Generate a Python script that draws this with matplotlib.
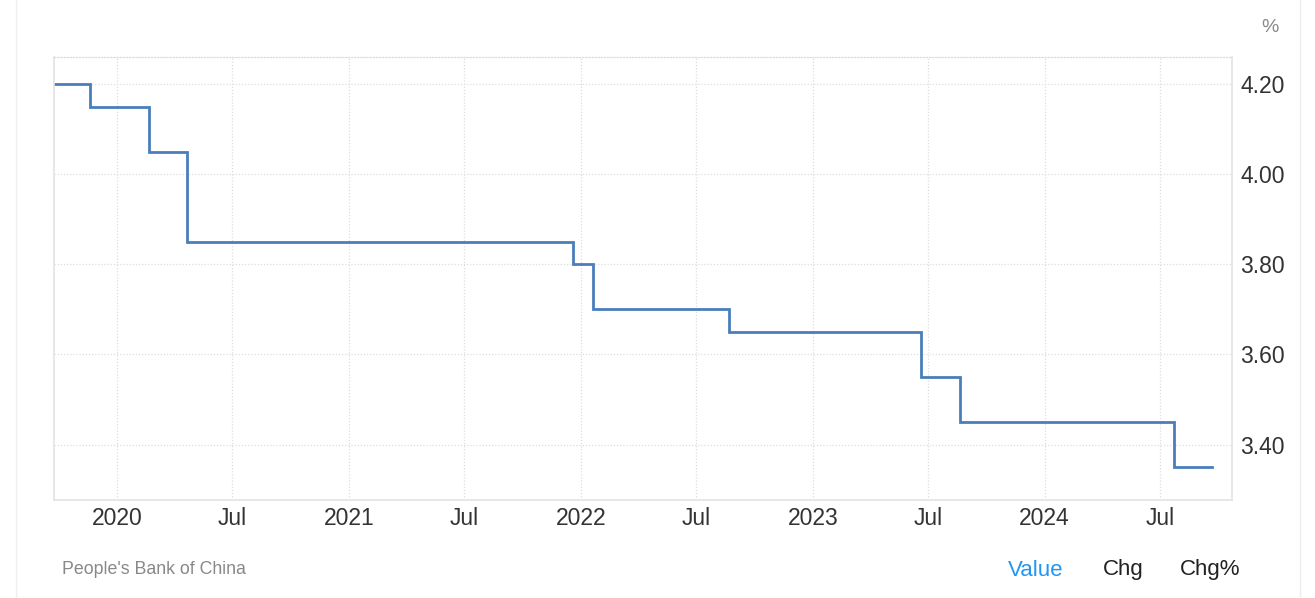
import matplotlib.pyplot as plt
import matplotlib.dates as mdates
import pandas as pd
from matplotlib.lines import Line2D

# China 1-year loan prime rate, People's Bank of China
dates = ['2019-09-20', '2019-11-20', '2020-02-20', '2020-04-20', '2021-12-20',
         '2022-01-20', '2022-08-22', '2023-06-20', '2023-08-21', '2024-07-22',
         '2024-09-20']
values = [4.20, 4.15, 4.05, 3.85, 3.80, 3.70, 3.65, 3.55, 3.45, 3.35, 3.35]
y_ticks = [3.40, 3.60, 3.80, 4.00, 4.20]

dates = pd.to_datetime(dates)

plt.rcParams['font.family'] = ['Liberation Sans', 'DejaVu Sans']

fig = plt.figure(figsize=(13.15, 5.98), dpi=100)
ax = fig.add_axes([54 / 1315, 1 - 500 / 598, (1232 - 54) / 1315, (500 - 57) / 598])

ax.step(dates, values, where='post', color='#4a7ebb', lw=2.0, solid_joinstyle='miter')

ax.set_xlim(pd.Timestamp('2019-09-24'), pd.Timestamp('2024-10-22'))
ax.set_ylim(3.277, 4.26)

ax.xaxis.set_major_locator(mdates.MonthLocator(bymonth=[1, 7]))
ax.xaxis.set_major_formatter(
    plt.FuncFormatter(lambda x, _: mdates.num2date(x).strftime('%Y') if mdates.num2date(x).month == 1 else 'Jul'))
ax.set_yticks(y_ticks)
ax.set_yticklabels([f'{v:.2f}' for v in y_ticks])
ax.yaxis.tick_right()

ax.tick_params(axis='both', length=0, labelsize=16.5, colors='#333333')
ax.tick_params(axis='x', pad=5)
ax.tick_params(axis='y', pad=6)

ax.grid(True, color='#dddddd', linestyle=(0, (1, 1.5)), lw=0.9)
ax.set_axisbelow(True)

for side in ['left', 'bottom', 'right']:
    ax.spines[side].set_color('#e3e3e3')
    ax.spines[side].set_linewidth(1.2)
ax.spines['top'].set_color('#dddddd')
ax.spines['top'].set_linestyle((0, (1, 1.5)))
ax.spines['top'].set_linewidth(0.9)

# card borders
fig.add_artist(Line2D([16 / 1315, 16 / 1315], [0, 1], color='#eeeeee', lw=1))
fig.add_artist(Line2D([1300 / 1315, 1300 / 1315], [0, 1], color='#eeeeee', lw=1))

fig.text(1270 / 1315, 1 - 27 / 598, '%', fontsize=14, color='#888888', ha='center', va='center')
fig.text(62 / 1315, 1 - 570 / 598, "People's Bank of China", fontsize=12.8, color='#888888',
         ha='left', va='center')
fig.text(1036 / 1315, 1 - 570 / 598, 'Value', fontsize=16, color='#2196f3', ha='center', va='center')
fig.text(1123 / 1315, 1 - 570 / 598, 'Chg', fontsize=16, color='#222222', ha='center', va='center')
fig.text(1210 / 1315, 1 - 570 / 598, 'Chg%', fontsize=16, color='#222222', ha='center', va='center')

fig.savefig('out.png', dpi=100)
